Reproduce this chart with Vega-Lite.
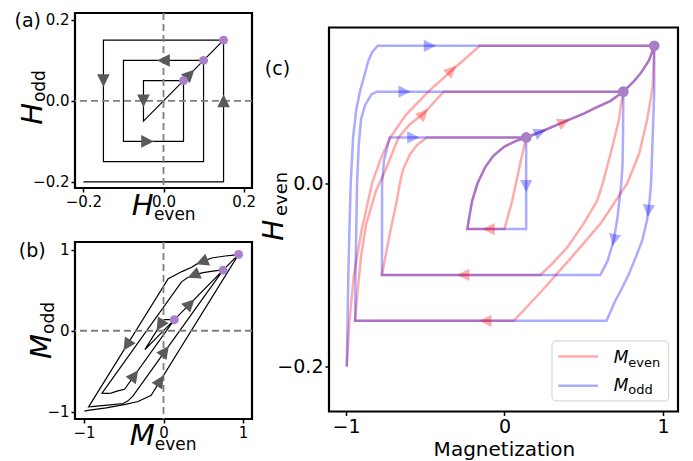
{
"$schema": "https://vega.github.io/schema/vega-lite/v6.json",
"padding": {"left": 13, "top": 10, "right": 0, "bottom": 0},
"spacing": 2,
"config": {"font": "DejaVu Sans", "view": {"stroke": "black", "strokeWidth": 2.2}, "axis": {"domain": false, "grid": false, "tickColor": "black", "tickWidth": 1.5, "tickSize": 4, "labelColor": "black", "labelFont": "DejaVu Sans", "labelPadding": 2}},
"datasets": {
"a_path": [{"t":0,"x":-0.2,"y":-0.2},{"t":1,"x":0.15,"y":-0.2},{"t":2,"x":0.15,"y":0.15},{"t":3,"x":-0.15,"y":0.15},{"t":4,"x":-0.15,"y":-0.15},{"t":5,"x":0.1,"y":-0.15},{"t":6,"x":0.1,"y":0.1},{"t":7,"x":-0.1,"y":0.1},{"t":8,"x":-0.1,"y":-0.1},{"t":9,"x":0.05,"y":-0.1},{"t":10,"x":0.05,"y":0.05},{"t":11,"x":-0.05,"y":0.05},{"t":12,"x":-0.05,"y":-0.05},{"t":13,"x":0.15,"y":0.15}],
"a_arrows": [{"x":-0.15,"y":0.05,"heading":180},{"x":0.15,"y":0.0,"heading":0},{"x":0.0,"y":0.1,"heading":270},{"x":0.066,"y":0.066,"heading":45},{"x":-0.05,"y":0.0,"heading":180},{"x":-0.04,"y":-0.1,"heading":90}],
"a_dots": [{"x":0.05,"y":0.05},{"x":0.1,"y":0.1},{"x":0.15,"y":0.15}],
"b_path": [{"t":0,"x":-0.995,"y":-0.995},{"t":1,"x":-0.95,"y":-0.985},{"t":2,"x":-0.835,"y":-0.97},{"t":3,"x":-0.72,"y":-0.955},{"t":4,"x":-0.48,"y":-0.912},{"t":5,"x":-0.32,"y":-0.875},{"t":6,"x":-0.155,"y":-0.8},{"t":7,"x":0.945,"y":0.945},{"t":8,"x":0.935,"y":0.944},{"t":9,"x":0.9,"y":0.938},{"t":10,"x":0.85,"y":0.932},{"t":11,"x":0.775,"y":0.925},{"t":12,"x":0.606,"y":0.9},{"t":13,"x":0.427,"y":0.83},{"t":14,"x":0.354,"y":0.785},{"t":15,"x":0.238,"y":0.735},{"t":16,"x":0.059,"y":0.644},{"t":17,"x":-0.942,"y":-0.942},{"t":18,"x":-0.905,"y":-0.94},{"t":19,"x":-0.81,"y":-0.93},{"t":20,"x":-0.668,"y":-0.917},{"t":21,"x":-0.51,"y":-0.9},{"t":22,"x":-0.45,"y":-0.87},{"t":23,"x":-0.383,"y":-0.805},{"t":24,"x":0.75,"y":0.75},{"t":25,"x":0.695,"y":0.748},{"t":26,"x":0.62,"y":0.737},{"t":27,"x":0.5,"y":0.72},{"t":28,"x":0.396,"y":0.695},{"t":29,"x":0.3,"y":0.655},{"t":30,"x":0.227,"y":0.605},{"t":31,"x":-0.773,"y":-0.773},{"t":32,"x":-0.71,"y":-0.774},{"t":33,"x":-0.66,"y":-0.772},{"t":34,"x":-0.64,"y":-0.765},{"t":35,"x":-0.595,"y":-0.75},{"t":36,"x":-0.55,"y":-0.737},{"t":37,"x":-0.49,"y":-0.724},{"t":38,"x":0.137,"y":0.137},{"t":39,"x":0.0,"y":0.137},{"t":40,"x":-0.234,"y":-0.234},{"t":41,"x":0.945,"y":0.945}],
"b_arrows": [{"x":0.482,"y":0.851,"heading":248},{"x":0.377,"y":0.687,"heading":247},{"x":0.335,"y":0.335,"heading":45},{"x":-0.045,"y":0.067,"heading":212},{"x":0.02,"y":-0.252,"heading":36},{"x":-0.04,"y":-0.618,"heading":32},{"x":-0.365,"y":-0.552,"heading":36},{"x":-0.46,"y":-0.179,"heading":212}],
"b_dots": [{"x":0.137,"y":0.137},{"x":0.75,"y":0.75},{"x":0.945,"y":0.945}],
"c_lines": [
{"series":"M_even","t":0,"M":-0.995,"H":-0.2},{"series":"M_even","t":1,"M":-0.978,"H":-0.15},{"series":"M_even","t":2,"M":-0.95,"H":-0.1},{"series":"M_even","t":3,"M":-0.9,"H":-0.05},{"series":"M_even","t":4,"M":-0.835,"H":0.0},{"series":"M_even","t":5,"M":-0.785,"H":0.025},{"series":"M_even","t":6,"M":-0.72,"H":0.05},{"series":"M_even","t":7,"M":-0.62,"H":0.075},{"series":"M_even","t":8,"M":-0.48,"H":0.1},{"series":"M_even","t":9,"M":-0.32,"H":0.125},{"series":"M_even","t":10,"M":-0.155,"H":0.15},{"series":"M_even","t":11,"M":0.945,"H":0.15},{"series":"M_even","t":12,"M":0.935,"H":0.105},{"series":"M_even","t":13,"M":0.9,"H":0.069},{"series":"M_even","t":14,"M":0.85,"H":0.0325},{"series":"M_even","t":15,"M":0.775,"H":0.0},{"series":"M_even","t":16,"M":0.606,"H":-0.044},{"series":"M_even","t":17,"M":0.427,"H":-0.08},{"series":"M_even","t":18,"M":0.238,"H":-0.117},{"series":"M_even","t":19,"M":0.059,"H":-0.15},{"series":"M_even","t":20,"M":-0.942,"H":-0.15},{"series":"M_even","t":21,"M":-0.928,"H":-0.12},{"series":"M_even","t":22,"M":-0.905,"H":-0.08},{"series":"M_even","t":23,"M":-0.872,"H":-0.044},{"series":"M_even","t":24,"M":-0.81,"H":-0.008},{"series":"M_even","t":25,"M":-0.752,"H":0.014},{"series":"M_even","t":26,"M":-0.668,"H":0.05},{"series":"M_even","t":27,"M":-0.6,"H":0.064},{"series":"M_even","t":28,"M":-0.51,"H":0.076},{"series":"M_even","t":29,"M":-0.383,"H":0.1},{"series":"M_even","t":30,"M":0.75,"H":0.1},{"series":"M_even","t":31,"M":0.735,"H":0.085},{"series":"M_even","t":32,"M":0.722,"H":0.069},{"series":"M_even","t":33,"M":0.695,"H":0.05},{"series":"M_even","t":34,"M":0.67,"H":0.0325},{"series":"M_even","t":35,"M":0.62,"H":0.0},{"series":"M_even","t":36,"M":0.585,"H":-0.019},{"series":"M_even","t":37,"M":0.5,"H":-0.044},{"series":"M_even","t":38,"M":0.396,"H":-0.07},{"series":"M_even","t":39,"M":0.3,"H":-0.088},{"series":"M_even","t":40,"M":0.227,"H":-0.1},{"series":"M_even","t":41,"M":-0.773,"H":-0.1},{"series":"M_even","t":42,"M":-0.74,"H":-0.07},{"series":"M_even","t":43,"M":-0.71,"H":-0.044},{"series":"M_even","t":44,"M":-0.68,"H":-0.02},{"series":"M_even","t":45,"M":-0.66,"H":0.0},{"series":"M_even","t":46,"M":-0.64,"H":0.015},{"series":"M_even","t":47,"M":-0.595,"H":0.032},{"series":"M_even","t":48,"M":-0.55,"H":0.042},{"series":"M_even","t":49,"M":-0.49,"H":0.05},{"series":"M_even","t":50,"M":0.137,"H":0.05},{"series":"M_even","t":51,"M":0.1,"H":0.022},{"series":"M_even","t":52,"M":0.049,"H":-0.019},{"series":"M_even","t":53,"M":0.0,"H":-0.05},{"series":"M_even","t":54,"M":-0.234,"H":-0.05},{"series":"M_even","t":55,"M":-0.225,"H":-0.04},{"series":"M_even","t":56,"M":-0.205,"H":-0.02},{"series":"M_even","t":57,"M":-0.17,"H":0.0},{"series":"M_even","t":58,"M":-0.12,"H":0.018},{"series":"M_even","t":59,"M":-0.07,"H":0.03},{"series":"M_even","t":60,"M":0.0,"H":0.04},{"series":"M_even","t":61,"M":0.07,"H":0.046},{"series":"M_even","t":62,"M":0.137,"H":0.05},{"series":"M_even","t":63,"M":0.227,"H":0.056},{"series":"M_even","t":64,"M":0.375,"H":0.067},{"series":"M_even","t":65,"M":0.5,"H":0.076},{"series":"M_even","t":66,"M":0.564,"H":0.0816},{"series":"M_even","t":67,"M":0.67,"H":0.09},{"series":"M_even","t":68,"M":0.75,"H":0.1},{"series":"M_even","t":69,"M":0.81,"H":0.11},{"series":"M_even","t":70,"M":0.859,"H":0.12},{"series":"M_even","t":71,"M":0.912,"H":0.134},{"series":"M_even","t":72,"M":0.945,"H":0.15},
{"series":"M_odd","t":0,"M":-0.995,"H":-0.2},{"series":"M_odd","t":1,"M":-0.99,"H":-0.15},{"series":"M_odd","t":2,"M":-0.985,"H":-0.1},{"series":"M_odd","t":3,"M":-0.978,"H":-0.05},{"series":"M_odd","t":4,"M":-0.97,"H":0.0},{"series":"M_odd","t":5,"M":-0.955,"H":0.05},{"series":"M_odd","t":6,"M":-0.935,"H":0.08},{"series":"M_odd","t":7,"M":-0.912,"H":0.1},{"series":"M_odd","t":8,"M":-0.88,"H":0.12},{"series":"M_odd","t":9,"M":-0.86,"H":0.133},{"series":"M_odd","t":10,"M":-0.835,"H":0.143},{"series":"M_odd","t":11,"M":-0.8,"H":0.15},{"series":"M_odd","t":12,"M":0.945,"H":0.15},{"series":"M_odd","t":13,"M":0.945,"H":0.1},{"series":"M_odd","t":14,"M":0.935,"H":0.05},{"series":"M_odd","t":15,"M":0.925,"H":0.0},{"series":"M_odd","t":16,"M":0.915,"H":-0.02},{"series":"M_odd","t":17,"M":0.9,"H":-0.04},{"series":"M_odd","t":18,"M":0.87,"H":-0.062},{"series":"M_odd","t":19,"M":0.83,"H":-0.08},{"series":"M_odd","t":20,"M":0.785,"H":-0.099},{"series":"M_odd","t":21,"M":0.74,"H":-0.115},{"series":"M_odd","t":22,"M":0.7,"H":-0.128},{"series":"M_odd","t":23,"M":0.644,"H":-0.15},{"series":"M_odd","t":24,"M":-0.942,"H":-0.15},{"series":"M_odd","t":25,"M":-0.94,"H":-0.1},{"series":"M_odd","t":26,"M":-0.935,"H":-0.05},{"series":"M_odd","t":27,"M":-0.93,"H":0.0},{"series":"M_odd","t":28,"M":-0.92,"H":0.04},{"series":"M_odd","t":29,"M":-0.905,"H":0.07},{"series":"M_odd","t":30,"M":-0.88,"H":0.085},{"series":"M_odd","t":31,"M":-0.84,"H":0.097},{"series":"M_odd","t":32,"M":-0.805,"H":0.1},{"series":"M_odd","t":33,"M":0.75,"H":0.1},{"series":"M_odd","t":34,"M":0.748,"H":0.05},{"series":"M_odd","t":35,"M":0.745,"H":0.02},{"series":"M_odd","t":36,"M":0.737,"H":0.0},{"series":"M_odd","t":37,"M":0.715,"H":-0.035},{"series":"M_odd","t":38,"M":0.69,"H":-0.062},{"series":"M_odd","t":39,"M":0.65,"H":-0.085},{"series":"M_odd","t":40,"M":0.605,"H":-0.1},{"series":"M_odd","t":41,"M":-0.773,"H":-0.1},{"series":"M_odd","t":42,"M":-0.772,"H":0.0},{"series":"M_odd","t":43,"M":-0.76,"H":0.025},{"series":"M_odd","t":44,"M":-0.724,"H":0.05},{"series":"M_odd","t":45,"M":0.137,"H":0.05},{"series":"M_odd","t":46,"M":0.137,"H":-0.05},{"series":"M_odd","t":47,"M":-0.234,"H":-0.05},{"series":"M_odd","t":48,"M":-0.225,"H":-0.04},{"series":"M_odd","t":49,"M":-0.205,"H":-0.02},{"series":"M_odd","t":50,"M":-0.17,"H":0.0},{"series":"M_odd","t":51,"M":-0.12,"H":0.018},{"series":"M_odd","t":52,"M":-0.07,"H":0.03},{"series":"M_odd","t":53,"M":0.0,"H":0.04},{"series":"M_odd","t":54,"M":0.07,"H":0.046},{"series":"M_odd","t":55,"M":0.137,"H":0.05},{"series":"M_odd","t":56,"M":0.227,"H":0.056},{"series":"M_odd","t":57,"M":0.375,"H":0.067},{"series":"M_odd","t":58,"M":0.5,"H":0.076},{"series":"M_odd","t":59,"M":0.564,"H":0.0816},{"series":"M_odd","t":60,"M":0.67,"H":0.09},{"series":"M_odd","t":61,"M":0.75,"H":0.1},{"series":"M_odd","t":62,"M":0.81,"H":0.11},{"series":"M_odd","t":63,"M":0.859,"H":0.12},{"series":"M_odd","t":64,"M":0.912,"H":0.134},{"series":"M_odd","t":65,"M":0.945,"H":0.15}],
"c_arrows": [{"series":"M_even","M":-0.333,"H":0.1235,"heading":46},{"series":"M_even","M":-0.51,"H":0.076,"heading":44},{"series":"M_even","M":-0.12,"H":-0.15,"heading":270},{"series":"M_even","M":-0.26,"H":-0.1,"heading":270},{"series":"M_even","M":-0.1,"H":-0.05,"heading":270},{"series":"M_even","M":0.375,"H":0.067,"heading":66},{"series":"M_odd","M":-0.47,"H":0.15,"heading":90},{"series":"M_odd","M":-0.63,"H":0.1,"heading":90},{"series":"M_odd","M":-0.575,"H":0.05,"heading":90},{"series":"M_odd","M":0.137,"H":-0.003,"heading":180},{"series":"M_odd","M":0.69,"H":-0.062,"heading":193},{"series":"M_odd","M":0.908,"H":-0.03,"heading":186},{"series":"M_odd","M":0.227,"H":0.056,"heading":67}],
"c_dots": [{"M":0.137,"H":0.05},{"M":0.75,"H":0.1},{"M":0.945,"H":0.15}]
},
"hconcat": [
{"vconcat": [
{"width": 177, "height": 175,
"layer": [
{"data": {"name": "a_path"}, "mark": {"type": "line", "color": "black", "strokeWidth": 1.2},
 "encoding": {"x": {"field": "x", "type": "quantitative", "title": null, "scale": {"domain": [-0.221, 0.221], "nice": false, "zero": false}, "axis": {"values": [-0.2, 0, 0.2], "format": ".1f", "labelFontSize": 15}},
  "y": {"field": "y", "type": "quantitative", "title": null, "scale": {"domain": [-0.215, 0.217], "nice": false, "zero": false}, "axis": {"values": [-0.2, 0, 0.2], "format": ".1f", "labelFontSize": 15}},
  "order": {"field": "t", "type": "quantitative"}}},
{"data": {"values": [{}]}, "mark": {"type": "rule", "color": "#808080", "strokeDash": [7, 4], "strokeWidth": 1.8},
 "encoding": {"x": {"datum": 0, "title": null, "scale": {"domain": [-0.221, 0.221], "nice": false, "zero": false}}}},
{"data": {"values": [{}]}, "mark": {"type": "rule", "color": "#808080", "strokeDash": [7, 4], "strokeWidth": 1.8},
 "encoding": {"y": {"datum": 0, "title": null, "scale": {"domain": [-0.215, 0.217], "nice": false, "zero": false}}}},
{"data": {"name": "a_arrows"}, "mark": {"type": "point", "shape": "M0,-1L-1,1L1,1Z", "filled": true, "color": "#5a5a5a", "opacity": 1, "size": 160, "strokeWidth": 0},
 "encoding": {"x": {"field": "x", "type": "quantitative", "title": null, "scale": {"domain": [-0.221, 0.221], "nice": false, "zero": false}},
  "y": {"field": "y", "type": "quantitative", "title": null, "scale": {"domain": [-0.215, 0.217], "nice": false, "zero": false}},
  "angle": {"field": "heading", "type": "quantitative", "scale": null}}},
{"data": {"name": "a_dots"}, "mark": {"type": "circle", "color": "#a880cc", "opacity": 1, "size": 80},
 "encoding": {"x": {"field": "x", "type": "quantitative", "title": null, "scale": {"domain": [-0.221, 0.221], "nice": false, "zero": false}},
  "y": {"field": "y", "type": "quantitative", "title": null, "scale": {"domain": [-0.215, 0.217], "nice": false, "zero": false}}}},
{"data": {"values": [{}]}, "mark": {"type": "text", "text": "(a)", "fontSize": 19, "align": "left", "baseline": "alphabetic", "color": "black"},
 "encoding": {"x": {"datum": -0.372, "title": null, "scale": {"domain": [-0.221, 0.221], "nice": false, "zero": false}}, "y": {"datum": 0.183, "title": null, "scale": {"domain": [-0.215, 0.217], "nice": false, "zero": false}}}},
{"data": {"values": [{}]}, "mark": {"type": "text", "text": "H", "fontSize": 29, "fontStyle": "italic", "align": "left", "baseline": "alphabetic", "color": "black"},
 "encoding": {"x": {"datum": -0.079, "title": null, "scale": {"domain": [-0.221, 0.221], "nice": false, "zero": false}}, "y": {"datum": -0.2815, "title": null, "scale": {"domain": [-0.215, 0.217], "nice": false, "zero": false}}}},
{"data": {"values": [{}]}, "mark": {"type": "text", "text": "even", "fontSize": 17, "align": "left", "baseline": "alphabetic", "color": "black"},
 "encoding": {"x": {"datum": -0.024, "title": null, "scale": {"domain": [-0.221, 0.221], "nice": false, "zero": false}}, "y": {"datum": -0.293, "title": null, "scale": {"domain": [-0.215, 0.217], "nice": false, "zero": false}}}},
{"data": {"values": [{}]}, "mark": {"type": "text", "text": "H", "fontSize": 29, "fontStyle": "italic", "align": "left", "baseline": "alphabetic", "angle": 270, "color": "black"},
 "encoding": {"x": {"datum": -0.304, "title": null, "scale": {"domain": [-0.221, 0.221], "nice": false, "zero": false}}, "y": {"datum": -0.059, "title": null, "scale": {"domain": [-0.215, 0.217], "nice": false, "zero": false}}}},
{"data": {"values": [{}]}, "mark": {"type": "text", "text": "odd", "fontSize": 17, "align": "left", "baseline": "alphabetic", "angle": 270, "color": "black"},
 "encoding": {"x": {"datum": -0.297, "title": null, "scale": {"domain": [-0.221, 0.221], "nice": false, "zero": false}}, "y": {"datum": -0.003, "title": null, "scale": {"domain": [-0.215, 0.217], "nice": false, "zero": false}}}}
]},
{"width": 177, "height": 177,
"layer": [
{"data": {"name": "b_path"}, "mark": {"type": "line", "color": "black", "strokeWidth": 1.2},
 "encoding": {"x": {"field": "x", "type": "quantitative", "title": null, "scale": {"domain": [-1.113, 1.113], "nice": false, "zero": false}, "axis": {"values": [-1, 0, 1], "format": "d", "labelFontSize": 15}},
  "y": {"field": "y", "type": "quantitative", "title": null, "scale": {"domain": [-1.092, 1.098], "nice": false, "zero": false}, "axis": {"values": [-1, 0, 1], "format": "d", "labelFontSize": 15}},
  "order": {"field": "t", "type": "quantitative"}}},
{"data": {"values": [{}]}, "mark": {"type": "rule", "color": "#808080", "strokeDash": [7, 4], "strokeWidth": 1.8},
 "encoding": {"x": {"datum": 0, "title": null, "scale": {"domain": [-1.113, 1.113], "nice": false, "zero": false}}}},
{"data": {"values": [{}]}, "mark": {"type": "rule", "color": "#808080", "strokeDash": [7, 4], "strokeWidth": 1.8},
 "encoding": {"y": {"datum": 0, "title": null, "scale": {"domain": [-1.092, 1.098], "nice": false, "zero": false}}}},
{"data": {"name": "b_arrows"}, "mark": {"type": "point", "shape": "M0,-1L-1,1L1,1Z", "filled": true, "color": "#5a5a5a", "opacity": 1, "size": 160, "strokeWidth": 0},
 "encoding": {"x": {"field": "x", "type": "quantitative", "title": null, "scale": {"domain": [-1.113, 1.113], "nice": false, "zero": false}},
  "y": {"field": "y", "type": "quantitative", "title": null, "scale": {"domain": [-1.092, 1.098], "nice": false, "zero": false}},
  "angle": {"field": "heading", "type": "quantitative", "scale": null}}},
{"data": {"name": "b_dots"}, "mark": {"type": "circle", "color": "#a880cc", "opacity": 1, "size": 80},
 "encoding": {"x": {"field": "x", "type": "quantitative", "title": null, "scale": {"domain": [-1.113, 1.113], "nice": false, "zero": false}},
  "y": {"field": "y", "type": "quantitative", "title": null, "scale": {"domain": [-1.092, 1.098], "nice": false, "zero": false}}}},
{"data": {"values": [{}]}, "mark": {"type": "text", "text": "(b)", "fontSize": 19, "align": "left", "baseline": "alphabetic", "color": "black"},
 "encoding": {"x": {"datum": -1.82, "title": null, "scale": {"domain": [-1.113, 1.113], "nice": false, "zero": false}}, "y": {"datum": 0.912, "title": null, "scale": {"domain": [-1.092, 1.098], "nice": false, "zero": false}}}},
{"data": {"values": [{}]}, "mark": {"type": "text", "text": "M", "fontSize": 29, "fontStyle": "italic", "align": "left", "baseline": "alphabetic", "color": "black"},
 "encoding": {"x": {"datum": -0.424, "title": null, "scale": {"domain": [-1.113, 1.113], "nice": false, "zero": false}}, "y": {"datum": -1.415, "title": null, "scale": {"domain": [-1.092, 1.098], "nice": false, "zero": false}}}},
{"data": {"values": [{}]}, "mark": {"type": "text", "text": "even", "fontSize": 17, "align": "left", "baseline": "alphabetic", "color": "black"},
 "encoding": {"x": {"datum": -0.109, "title": null, "scale": {"domain": [-1.113, 1.113], "nice": false, "zero": false}}, "y": {"datum": -1.472, "title": null, "scale": {"domain": [-1.092, 1.098], "nice": false, "zero": false}}}},
{"data": {"values": [{}]}, "mark": {"type": "text", "text": "M", "fontSize": 29, "fontStyle": "italic", "align": "left", "baseline": "alphabetic", "angle": 270, "color": "black"},
 "encoding": {"x": {"datum": -1.418, "title": null, "scale": {"domain": [-1.113, 1.113], "nice": false, "zero": false}}, "y": {"datum": -0.35, "title": null, "scale": {"domain": [-1.092, 1.098], "nice": false, "zero": false}}}},
{"data": {"values": [{}]}, "mark": {"type": "text", "text": "odd", "fontSize": 17, "align": "left", "baseline": "alphabetic", "angle": 270, "color": "black"},
 "encoding": {"x": {"datum": -1.38, "title": null, "scale": {"domain": [-1.113, 1.113], "nice": false, "zero": false}}, "y": {"datum": -0.04, "title": null, "scale": {"domain": [-1.092, 1.098], "nice": false, "zero": false}}}}
]}
], "spacing": 54, "bounds": "flush"},
{"vconcat": [
{"width": 349, "height": 13, "view": {"stroke": null}, "data": {"values": [{}]}, "mark": {"type": "rule", "opacity": 0},
 "encoding": {"x": {"datum": 1, "scale": {"domain": [0, 1]}, "axis": null, "title": null}}},
{"width": 349, "height": 384,
"layer": [
{"data": {"name": "c_lines"}, "mark": {"type": "line", "strokeWidth": 2.5, "opacity": 0.33},
 "encoding": {"x": {"field": "M", "type": "quantitative", "title": null, "scale": {"domain": [-1.107, 1.095], "nice": false, "zero": false}, "axis": {"values": [-1, 0, 1], "format": "d", "labelFontSize": 19}},
  "y": {"field": "H", "type": "quantitative", "title": null, "scale": {"domain": [-0.249, 0.17], "nice": false, "zero": false}, "axis": {"values": [-0.2, 0], "format": ".1f", "labelFontSize": 19}},
  "color": {"field": "series", "type": "nominal", "scale": {"domain": ["M_even", "M_odd"], "range": ["#ff0000", "#0000ff"]}, "legend": null},
  "order": {"field": "t", "type": "quantitative"}}},
{"data": {"name": "c_arrows"}, "mark": {"type": "point", "shape": "M0,-1L-1,1L1,1Z", "filled": true, "opacity": 0.33, "size": 150, "strokeWidth": 0},
 "encoding": {"x": {"field": "M", "type": "quantitative", "title": null, "scale": {"domain": [-1.107, 1.095], "nice": false, "zero": false}},
  "y": {"field": "H", "type": "quantitative", "title": null, "scale": {"domain": [-0.249, 0.17], "nice": false, "zero": false}},
  "color": {"field": "series", "type": "nominal", "scale": {"domain": ["M_even", "M_odd"], "range": ["#ff0000", "#0000ff"]}, "legend": null},
  "angle": {"field": "heading", "type": "quantitative", "scale": null}}},
{"data": {"name": "c_dots"}, "mark": {"type": "circle", "color": "#a67fc4", "opacity": 1, "size": 115},
 "encoding": {"x": {"field": "M", "type": "quantitative", "title": null, "scale": {"domain": [-1.107, 1.095], "nice": false, "zero": false}},
  "y": {"field": "H", "type": "quantitative", "title": null, "scale": {"domain": [-0.249, 0.17], "nice": false, "zero": false}}}},
{"data": {"values": [{}]}, "mark": {"type": "rect", "fill": "white", "fillOpacity": 0.8, "stroke": "#d0d0d0", "strokeWidth": 1, "cornerRadius": 4},
 "encoding": {"x": {"datum": 0.3, "title": null, "scale": {"domain": [-1.107, 1.095], "nice": false, "zero": false}}, "x2": {"datum": 1.036},
  "y": {"datum": -0.172, "title": null, "scale": {"domain": [-0.249, 0.17], "nice": false, "zero": false}}, "y2": {"datum": -0.2375}}},
{"data": {"values": [{}]}, "mark": {"type": "rule", "color": "#ff0000", "opacity": 0.33, "strokeWidth": 2.5},
 "encoding": {"x": {"datum": 0.34, "title": null, "scale": {"domain": [-1.107, 1.095], "nice": false, "zero": false}}, "x2": {"datum": 0.59},
  "y": {"datum": -0.189, "title": null, "scale": {"domain": [-0.249, 0.17], "nice": false, "zero": false}}}},
{"data": {"values": [{}]}, "mark": {"type": "rule", "color": "#0000ff", "opacity": 0.33, "strokeWidth": 2.5},
 "encoding": {"x": {"datum": 0.34, "title": null, "scale": {"domain": [-1.107, 1.095], "nice": false, "zero": false}}, "x2": {"datum": 0.59},
  "y": {"datum": -0.221, "title": null, "scale": {"domain": [-0.249, 0.17], "nice": false, "zero": false}}}},
{"data": {"values": [{}]}, "mark": {"type": "text", "text": "M", "fontSize": 17, "fontStyle": "italic", "align": "left", "baseline": "alphabetic", "color": "black"},
 "encoding": {"x": {"datum": 0.69, "title": null, "scale": {"domain": [-1.107, 1.095], "nice": false, "zero": false}}, "y": {"datum": -0.196, "title": null, "scale": {"domain": [-0.249, 0.17], "nice": false, "zero": false}}}},
{"data": {"values": [{}]}, "mark": {"type": "text", "text": "even", "fontSize": 13, "align": "left", "baseline": "alphabetic", "color": "black"},
 "encoding": {"x": {"datum": 0.781, "title": null, "scale": {"domain": [-1.107, 1.095], "nice": false, "zero": false}}, "y": {"datum": -0.2003, "title": null, "scale": {"domain": [-0.249, 0.17], "nice": false, "zero": false}}}},
{"data": {"values": [{}]}, "mark": {"type": "text", "text": "M", "fontSize": 17, "fontStyle": "italic", "align": "left", "baseline": "alphabetic", "color": "black"},
 "encoding": {"x": {"datum": 0.69, "title": null, "scale": {"domain": [-1.107, 1.095], "nice": false, "zero": false}}, "y": {"datum": -0.2265, "title": null, "scale": {"domain": [-0.249, 0.17], "nice": false, "zero": false}}}},
{"data": {"values": [{}]}, "mark": {"type": "text", "text": "odd", "fontSize": 13, "align": "left", "baseline": "alphabetic", "color": "black"},
 "encoding": {"x": {"datum": 0.781, "title": null, "scale": {"domain": [-1.107, 1.095], "nice": false, "zero": false}}, "y": {"datum": -0.2298, "title": null, "scale": {"domain": [-0.249, 0.17], "nice": false, "zero": false}}}},
{"data": {"values": [{}]}, "mark": {"type": "text", "text": "(c)", "fontSize": 19, "align": "left", "baseline": "alphabetic", "color": "black"},
 "encoding": {"x": {"datum": -1.512, "title": null, "scale": {"domain": [-1.107, 1.095], "nice": false, "zero": false}}, "y": {"datum": 0.1177, "title": null, "scale": {"domain": [-0.249, 0.17], "nice": false, "zero": false}}}},
{"data": {"values": [{}]}, "mark": {"type": "text", "text": "Magnetization", "fontSize": 20, "align": "center", "baseline": "alphabetic", "color": "black"},
 "encoding": {"x": {"datum": 0, "title": null, "scale": {"domain": [-1.107, 1.095], "nice": false, "zero": false}}, "y": {"datum": -0.2976, "title": null, "scale": {"domain": [-0.249, 0.17], "nice": false, "zero": false}}}},
{"data": {"values": [{}]}, "mark": {"type": "text", "text": "H", "fontSize": 28, "fontStyle": "italic", "align": "left", "baseline": "alphabetic", "angle": 270, "color": "black"},
 "encoding": {"x": {"datum": -1.398, "title": null, "scale": {"domain": [-1.107, 1.095], "nice": false, "zero": false}}, "y": {"datum": -0.0626, "title": null, "scale": {"domain": [-0.249, 0.17], "nice": false, "zero": false}}}},
{"data": {"values": [{}]}, "mark": {"type": "text", "text": "even", "fontSize": 18, "align": "left", "baseline": "alphabetic", "angle": 270, "color": "black"},
 "encoding": {"x": {"datum": -1.374, "title": null, "scale": {"domain": [-1.107, 1.095], "nice": false, "zero": false}}, "y": {"datum": -0.0357, "title": null, "scale": {"domain": [-0.249, 0.17], "nice": false, "zero": false}}}}
]}
], "spacing": 1.5, "bounds": "flush"}
]
}
